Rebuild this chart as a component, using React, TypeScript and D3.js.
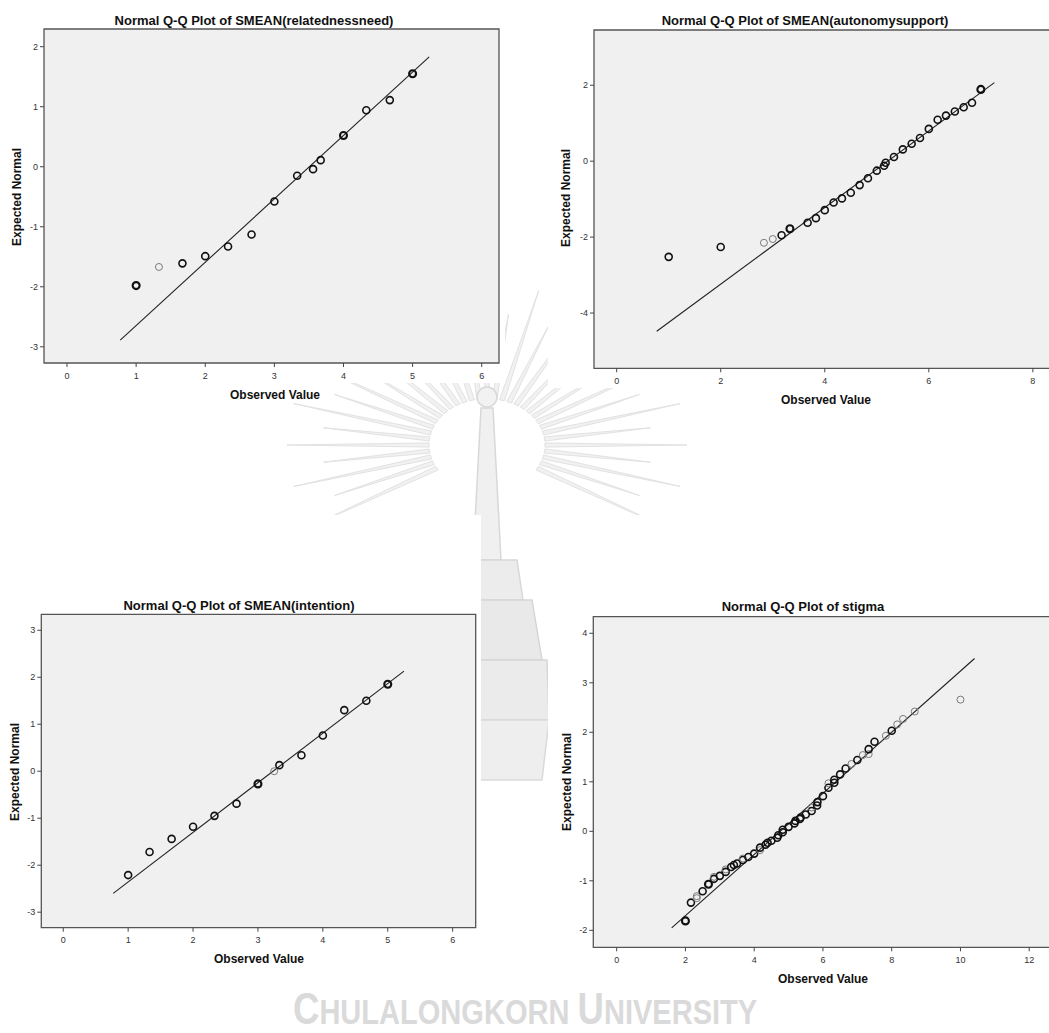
import React from 'react';
import * as d3 from 'd3';

// ---------- DATA ----------
// Panel 1: SMEAN(relatednessneed)
const relTitle = 'Normal Q-Q Plot of SMEAN(relatednessneed)';
const relObs = [1, 1.33, 1.67, 2, 2.33, 2.67, 3, 3.33, 3.56, 3.67, 4, 4.33, 4.67, 5];
const relExp = [-1.98, -1.67, -1.61, -1.49, -1.33, -1.13, -0.58, -0.15, -0.04, 0.11, 0.52, 0.94, 1.11, 1.55];
const relTone = [2, 0, 1, 1, 1, 1, 1, 1, 1, 1, 2, 1, 1, 2];
const relLine = [[0.77, -2.89], [5.24, 1.83]];
const relXTicks = [0, 1, 2, 3, 4, 5, 6];
const relYTicks = [-3, -2, -1, 0, 1, 2];

// Panel 2: SMEAN(autonomysupport)
const autTitle = 'Normal Q-Q Plot of SMEAN(autonomysupport)';
const autObs = [1, 2, 2.83, 3, 3.17, 3.33, 3.67, 3.83, 4, 4.17, 4.33, 4.5, 4.67, 4.83, 5, 5.14, 5.17, 5.33, 5.5, 5.67, 5.83, 6, 6.17, 6.33, 6.5, 6.67, 6.83, 7];
const autExp = [-2.52, -2.26, -2.15, -2.05, -1.95, -1.78, -1.62, -1.5, -1.29, -1.09, -0.98, -0.83, -0.63, -0.45, -0.25, -0.12, -0.04, 0.11, 0.31, 0.46, 0.61, 0.85, 1.09, 1.2, 1.31, 1.42, 1.54, 1.89];
const autTone = [1, 1, 0, 0, 1, 2, 1, 1, 1, 1, 1, 1, 1, 1, 1, 1, 1, 1, 1, 1, 1, 1, 1, 1, 1, 1, 1, 2];
const autLine = [[0.77, -4.48], [7.26, 2.07]];
const autXTicks = [0, 2, 4, 6, 8];
const autYTicks = [-4, -2, 0, 2];

// Panel 3: SMEAN(intention)
const intTitle = 'Normal Q-Q Plot of SMEAN(intention)';
const intObs = [1, 1.33, 1.67, 2, 2.33, 2.67, 3, 3.25, 3.33, 3.67, 4, 4.33, 4.67, 5];
const intExp = [-2.21, -1.72, -1.44, -1.18, -0.95, -0.69, -0.27, 0.0, 0.13, 0.34, 0.76, 1.3, 1.5, 1.85];
const intTone = [1, 1, 1, 1, 1, 1, 2, 0, 1, 1, 1, 1, 1, 2];
const intLine = [[0.77, -2.6], [5.25, 2.13]];
const intXTicks = [0, 1, 2, 3, 4, 5, 6];
const intYTicks = [-3, -2, -1, 0, 1, 2, 3];

// Panel 4: stigma
const stgTitle = 'Normal Q-Q Plot of stigma';
const stgObs = [2.0, 2.16, 2.33, 2.33, 2.5, 2.67, 2.83, 2.83, 3.0, 3.17, 3.17, 3.33, 3.41, 3.5, 3.67, 3.67, 3.83, 4.0, 4.17, 4.17, 4.33, 4.39, 4.5, 4.67, 4.7, 4.83, 4.83, 5.0, 5.17, 5.2, 5.33, 5.35, 5.5, 5.67, 5.67, 5.83, 5.84, 6.0, 6.16, 6.16, 6.33, 6.33, 6.5, 6.66, 6.83, 7.0, 7.16, 7.33, 7.33, 7.5, 7.83, 8.0, 8.16, 8.33, 8.67, 10.0];
const stgExp = [-1.81, -1.44, -1.35, -1.31, -1.21, -1.07, -0.96, -0.92, -0.9, -0.82, -0.77, -0.72, -0.68, -0.65, -0.58, -0.55, -0.52, -0.45, -0.38, -0.33, -0.27, -0.23, -0.19, -0.13, -0.08, -0.02, 0.03, 0.09, 0.16, 0.21, 0.25, 0.28, 0.34, 0.41, 0.48, 0.52, 0.59, 0.71, 0.88, 0.97, 0.98, 1.04, 1.15, 1.27, 1.36, 1.44, 1.54, 1.56, 1.66, 1.81, 1.93, 2.03, 2.16, 2.27, 2.42, 2.66];
const stgTone = [2, 1, 0, 0, 1, 2, 1, 0, 1, 1, 0, 1, 1, 1, 1, 0, 1, 1, 0, 1, 1, 1, 1, 1, 1, 1, 1, 1, 1, 1, 1, 1, 1, 1, 0, 1, 1, 1, 1, 0, 1, 1, 1, 1, 0, 1, 0, 0, 1, 1, 0, 1, 0, 0, 0, 0];
const stgLine = [[1.6, -1.95], [10.41, 3.49]];
const stgXTicks = [0, 2, 4, 6, 8, 10, 12];
const stgYTicks = [-2, -1, 0, 1, 2, 3, 4];

const xLabel = 'Observed Value';
const yLabel = 'Expected Normal';
const watermarkParts = ['C', 'HULALONGKORN ', 'U', 'NIVERSITY'];

// ---------- LAYOUT ----------
const FONT = '"Liberation Sans", Arial, Helvetica, sans-serif';

type Cfg = {
  x0: number; x1: number; y0: number; y1: number;
  xDom: [number, number]; yDom: [number, number];
  openRight: boolean;
  titleX: number; titleY: number;
  ylabX: number; ylabY: number;
  xlabX: number;
  mask: [number, number, number, number];
};

const cfg1: Cfg = { x0: 44, x1: 499, y0: 29, y1: 363, xDom: [-0.333, 6.25], yDom: [-3.27, 2.295], openRight: false, titleX: 254, titleY: 24.5, ylabX: 17, ylabY: 197, xlabX: 275, mask: [0, 0, 505, 383] };
const cfg2: Cfg = { x0: 594, x1: 1049, y0: 30, y1: 368.3, xDom: [-0.436, 8.31], yDom: [-5.455, 3.455], openRight: true, titleX: 805, titleY: 25, ylabX: 566, ylabY: 198, xlabX: 826, mask: [548, 0, 501, 388] };
const cfg3: Cfg = { x0: 41.3, x1: 475.7, y0: 614.3, y1: 927.7, xDom: [-0.338, 6.355], yDom: [-3.33, 3.34], openRight: false, titleX: 239, titleY: 610, ylabX: 15, ylabY: 772, xlabX: 259, mask: [0, 515, 481, 455] };
const cfg4: Cfg = { x0: 593.3, x1: 1049, y0: 616.7, y1: 947.3, xDom: [-0.68, 12.575], yDom: [-2.343, 4.335], openRight: true, titleX: 803, titleY: 611, ylabX: 567, ylabY: 782, xlabX: 823, mask: [548, 515, 501, 473] };

function QQPanel(props: {
  cfg: Cfg; title: string; obs: number[]; exp: number[]; tone: number[];
  line: number[][]; xTicks: number[]; yTicks: number[];
}) {
  const { cfg, title, obs, exp, tone, line, xTicks, yTicks } = props;
  const x = d3.scaleLinear().domain(cfg.xDom).range([cfg.x0, cfg.x1]);
  const y = d3.scaleLinear().domain(cfg.yDom).range([cfg.y1, cfg.y0]);
  const lineGen = d3.line<number[]>().x((d) => x(d[0])).y((d) => y(d[1]));
  const rightEdge = cfg.openRight ? cfg.x1 + 10 : cfg.x1;
  const framePath = cfg.openRight
    ? `M${rightEdge},${cfg.y0}H${cfg.x0}V${cfg.y1}H${rightEdge}`
    : `M${cfg.x0},${cfg.y0}H${cfg.x1}V${cfg.y1}H${cfg.x0}Z`;
  const pts = obs.map((v, i) => ({ ox: v, ey: exp[i], t: tone[i] }));
  return (
    <g>
      <rect x={cfg.mask[0]} y={cfg.mask[1]} width={cfg.mask[2]} height={cfg.mask[3]} fill="#ffffff" />
      <text x={cfg.titleX} y={cfg.titleY} textAnchor="middle" fontFamily={FONT} fontWeight="bold" fontSize={13} fill="#111">{title}</text>
      <rect x={cfg.x0} y={cfg.y0} width={rightEdge - cfg.x0} height={cfg.y1 - cfg.y0} fill="#f0f0f0" />
      <path d={framePath} fill="none" stroke="#555" strokeWidth={1.3} />
      {yTicks.map((t) => (
        <g key={'y' + t}>
          <line x1={cfg.x0 - 4} x2={cfg.x0} y1={y(t)} y2={y(t)} stroke="#444" strokeWidth={1} />
          <text x={cfg.x0 - 6} y={y(t)} dy="0.34em" textAnchor="end" fontFamily={FONT} fontSize={9} fill="#333">{t}</text>
        </g>
      ))}
      {xTicks.map((t) => (
        <g key={'x' + t}>
          <line x1={x(t)} x2={x(t)} y1={cfg.y1} y2={cfg.y1 + 4} stroke="#444" strokeWidth={1} />
          <text x={x(t)} y={cfg.y1 + 15.5} textAnchor="middle" fontFamily={FONT} fontSize={9} fill="#333">{t}</text>
        </g>
      ))}
      <text x={cfg.xlabX} y={cfg.y1 + 35.5} textAnchor="middle" fontFamily={FONT} fontWeight="bold" fontSize={12} fill="#111">{xLabel}</text>
      <text transform={`translate(${cfg.ylabX + 4.3},${cfg.ylabY}) rotate(-90)`} textAnchor="middle" fontFamily={FONT} fontWeight="bold" fontSize={12} fill="#111">{yLabel}</text>
      <path d={lineGen(line) || ''} fill="none" stroke="#222" strokeWidth={1.1} />
      {pts.map((p, i) => (
        <circle key={i} cx={x(p.ox)} cy={y(p.ey)} r={3.5} fill="none"
          stroke={p.t === 0 ? '#7a7a7a' : '#111'}
          strokeWidth={p.t === 0 ? 1 : p.t === 1 ? 1.6 : 2.1} />
      ))}
    </g>
  );
}

function Watermark() {
  const cx = 487, cy = 445;
  const rays: string[] = [];
  const angles = d3.range(150, 391, 7.5);
  angles.forEach((a, i) => {
    const rad = (a * Math.PI) / 180;
    const long = i % 2 === 0;
    const r0 = 58, r1 = long ? 200 : 165;
    const w = 0.045;
    const p = (r: number, ang: number) => [cx + r * Math.cos(ang), cy + r * Math.sin(ang) * 0.8];
    const a1 = p(r0, rad - w), a2 = p(r0, rad + w), tip = p(r1, rad);
    rays.push(`M${a1[0]},${a1[1]}L${tip[0]},${tip[1]}L${a2[0]},${a2[1]}Z`);
  });
  return (
    <g>
      {rays.map((d, i) => (
        <path key={i} d={d} fill="#f1f1f1" stroke="#e2e2e2" strokeWidth={1} />
      ))}
      <circle cx={cx} cy={397} r={10} fill="#f2f2f2" stroke="#d8d8d8" strokeWidth={1.5} />
      <path d={`M${cx - 6},408L${cx - 14},560H${cx + 14}L${cx + 6},408Z`} fill="#f0f0f0" stroke="#d8d8d8" strokeWidth={1.5} />
      <path d={`M${cx - 30},560H${cx + 30}L${cx + 36},600H${cx - 36}Z`} fill="#ececec" stroke="#d8d8d8" strokeWidth={1.5} />
      <path d={`M${cx - 45},600H${cx + 45}L${cx + 55},660H${cx - 55}Z`} fill="#e9e9e9" stroke="#d6d6d6" strokeWidth={1.5} />
      <path d={`M${cx - 60},660H${cx + 60}L${cx + 62},720H${cx - 62}Z`} fill="#ebebeb" stroke="#d6d6d6" strokeWidth={1.5} />
      <path d={`M${cx - 62},720H${cx + 62}L${cx + 55},780H${cx - 55}Z`} fill="#eeeeee" stroke="#dadada" strokeWidth={1.5} />
      <text transform="translate(293,1024) scale(0.83,1)" fontFamily={FONT} fontWeight="bold" fill="#dadada">
        <tspan fontSize={44}>{watermarkParts[0]}</tspan>
        <tspan fontSize={35}>{watermarkParts[1]}</tspan>
        <tspan fontSize={44}>{watermarkParts[2]}</tspan>
        <tspan fontSize={35}>{watermarkParts[3]}</tspan>
      </text>
    </g>
  );
}

export default function App() {
  return (
    <svg width={1049} height={1033} style={{ position: 'absolute', left: 0, top: 0, background: '#fff' }}>
      <rect x={0} y={0} width={1049} height={1033} fill="#fff" />
      <Watermark />
      <QQPanel cfg={cfg1} title={relTitle} obs={relObs} exp={relExp} tone={relTone} line={relLine} xTicks={relXTicks} yTicks={relYTicks} />
      <QQPanel cfg={cfg2} title={autTitle} obs={autObs} exp={autExp} tone={autTone} line={autLine} xTicks={autXTicks} yTicks={autYTicks} />
      <QQPanel cfg={cfg3} title={intTitle} obs={intObs} exp={intExp} tone={intTone} line={intLine} xTicks={intXTicks} yTicks={intYTicks} />
      <QQPanel cfg={cfg4} title={stgTitle} obs={stgObs} exp={stgExp} tone={stgTone} line={stgLine} xTicks={stgXTicks} yTicks={stgYTicks} />
    </svg>
  );
}
